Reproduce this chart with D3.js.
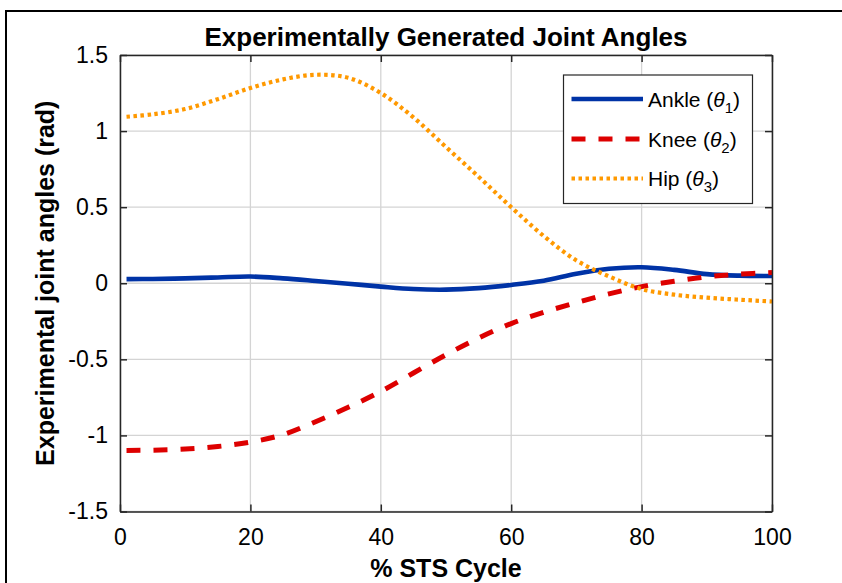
<!DOCTYPE html>
<html>
<head>
<meta charset="utf-8">
<script src="https://cdn.jsdelivr.net/npm/d3@7"></script>
<style>
  html, body { margin: 0; padding: 0; background: #fff; }
  svg { display: block; font-family: "Liberation Sans", Arial, sans-serif; }
</style>
</head>
<body>
<svg id="chart" width="842" height="583"></svg>
<script>
// % of the sit-to-stand cycle at which each joint angle is sampled
const cycle = [1, 5, 10, 15, 20, 25, 30, 35, 40, 45, 50, 55, 60, 65, 70, 75, 80, 85, 90, 95, 100];

// Joint angles (rad)
const ankle = [0.027, 0.028, 0.032, 0.038, 0.044, 0.032, 0.015, -0.003, -0.022, -0.038, -0.042, -0.032, -0.011, 0.017, 0.062, 0.095, 0.105, 0.088, 0.06, 0.05, 0.048];
const knee  = [-1.099, -1.097, -1.09, -1.073, -1.044, -0.995, -0.91, -0.815, -0.711, -0.59, -0.47, -0.36, -0.265, -0.19, -0.128, -0.07, -0.022, 0.013, 0.042, 0.06, 0.07];
const hip   = [1.094, 1.11, 1.145, 1.21, 1.283, 1.34, 1.37, 1.35, 1.25, 1.09, 0.895, 0.7, 0.5, 0.31, 0.15, 0.045, -0.038, -0.075, -0.095, -0.108, -0.12];

const xTicks = [0, 20, 40, 60, 80, 100];
const yTicks = [-1.5, -1, -0.5, 0, 0.5, 1, 1.5];

const seriesNames = ["Ankle", "Knee", "Hip"];
const seriesSubs = ["1", "2", "3"];

const svg = d3.select("#chart");
const W = 842, H = 583;
const pLeft = 120, pRight = 772, pTop = 55, pBottom = 511.5;

// outer frame
svg.append("rect")
  .attr("x", 6).attr("y", 11).attr("width", W + 20).attr("height", H + 20)
  .attr("fill", "none").attr("stroke", "#000").attr("stroke-width", 2);

const x = d3.scaleLinear().domain([0, 100]).range([pLeft, pRight]);
const y = d3.scaleLinear().domain([-1.5, 1.5]).range([pBottom, pTop]);

// grid
const grid = svg.append("g").attr("stroke", "#d4d4d4").attr("stroke-width", 1.3);
grid.selectAll(".gx").data(xTicks).join("line")
  .attr("x1", d => x(d)).attr("x2", d => x(d))
  .attr("y1", pTop).attr("y2", pBottom);
grid.selectAll(".gy").data(yTicks).join("line")
  .attr("x1", pLeft).attr("x2", pRight)
  .attr("y1", d => y(d)).attr("y2", d => y(d));

// series lines
const line = d3.line().curve(d3.curveCatmullRom.alpha(0.5));
const pts = vals => cycle.map((c, i) => [x(c), y(vals[i])]);

const styles = [
  { data: ankle, color: "#0033a6", width: 4.6, dash: null },
  { data: knee,  color: "#dd0000", width: 5,   dash: "14 13" },
  { data: hip,   color: "#ff9900", width: 4.2, dash: "3.5 3.5" }
];

const plot = svg.append("g");
styles.forEach(s => {
  plot.append("path")
    .attr("d", line(pts(s.data)))
    .attr("fill", "none")
    .attr("stroke", s.color)
    .attr("stroke-width", s.width)
    .attr("stroke-dasharray", s.dash);
});

// axes box + inward ticks
const axisColor = "#262626";
const fmt = d => String(d);
const gx = svg.append("g").attr("transform", `translate(0,${pBottom})`)
  .call(d3.axisBottom(x).tickValues(xTicks).tickSize(-7).tickSizeOuter(0).tickPadding(17).tickFormat(fmt));
const gxTop = svg.append("g").attr("transform", `translate(0,${pTop})`)
  .call(d3.axisTop(x).tickValues(xTicks).tickSize(-7).tickSizeOuter(0).tickFormat(""));
const gy = svg.append("g").attr("transform", `translate(${pLeft},0)`)
  .call(d3.axisLeft(y).tickValues(yTicks).tickSize(-7).tickSizeOuter(0).tickPadding(12).tickFormat(fmt));
const gyR = svg.append("g").attr("transform", `translate(${pRight},0)`)
  .call(d3.axisRight(y).tickValues(yTicks).tickSize(-7).tickSizeOuter(0).tickFormat(""));

[gx, gxTop, gy, gyR].forEach(g => {
  g.select(".domain").attr("stroke", axisColor).attr("stroke-width", 1.5);
  g.selectAll(".tick line").attr("stroke", axisColor).attr("stroke-width", 1.5);
  g.selectAll(".tick text").attr("fill", "#000")
    .style("font-family", "'Liberation Sans', Arial, sans-serif")
    .style("font-size", "23px");
});

// titles
svg.append("text")
  .attr("x", (pLeft + pRight) / 2).attr("y", 46)
  .attr("text-anchor", "middle")
  .attr("font-weight", "bold").attr("font-size", 26)
  .text("Experimentally Generated Joint Angles");

svg.append("text")
  .attr("x", (pLeft + pRight) / 2).attr("y", 577)
  .attr("text-anchor", "middle")
  .attr("font-weight", "bold").attr("font-size", 25)
  .text("% STS Cycle");

svg.append("text")
  .attr("transform", `translate(54,${(pTop + pBottom) / 2}) rotate(-90)`)
  .attr("text-anchor", "middle")
  .attr("font-weight", "bold").attr("font-size", 25)
  .text("Experimental joint angles (rad)");

// legend
const lg = svg.append("g");
lg.append("rect")
  .attr("x", 563.5).attr("y", 75).attr("width", 189).attr("height", 128.5)
  .attr("fill", "#fff").attr("stroke", axisColor).attr("stroke-width", 1.2);

const rowY = [99, 139, 178.5];
styles.forEach((s, i) => {
  lg.append("line")
    .attr("x1", 571.5).attr("x2", 643)
    .attr("y1", rowY[i]).attr("y2", rowY[i])
    .attr("stroke", s.color).attr("stroke-width", s.width)
    .attr("stroke-dasharray", s.dash);
  const t = lg.append("text")
    .attr("x", 648).attr("y", rowY[i] + 7.5)
    .attr("font-size", 21);
  t.append("tspan").text(seriesNames[i] + " (");
  t.append("tspan").attr("font-style", "italic").text("θ");
  t.append("tspan").attr("font-size", 15).attr("dy", 6).text(seriesSubs[i]);
  t.append("tspan").attr("dy", -6).text(")");
});
</script>
</body>
</html>
